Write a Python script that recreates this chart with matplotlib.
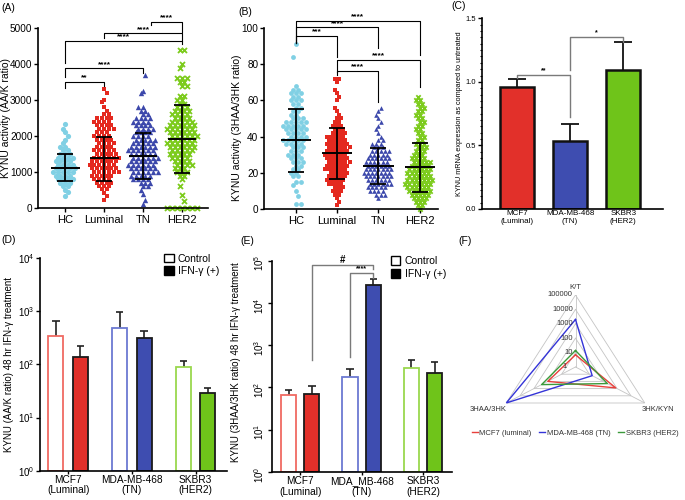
import numpy as np
import matplotlib.pyplot as plt
from matplotlib.patches import Patch
from matplotlib.lines import Line2D
from matplotlib.ticker import MultipleLocator, NullLocator

plt.rcParams['font.family'] = ['Liberation Sans', 'DejaVu Sans']
plt.rcParams['axes.linewidth'] = 1.2
plt.rcParams['xtick.major.width'] = 1.0
plt.rcParams['ytick.major.width'] = 1.0
plt.rcParams['xtick.major.size'] = 3
plt.rcParams['ytick.major.size'] = 3

W, H = 685, 500

groups = ['HC', 'Luminal', 'TN', 'HER2']
grp_colors = ['#80d0e4', '#e4291f', '#3c48ab', '#7ccb1c']
grp_markers = ['o', 's', '^', 'x']

# (A) AA/K ratio, swarm rows: (row value, points in row)
a_hc = [(330, 1), (450, 1), (500, 1), (600, 2), (700, 3), (800, 4), (900, 4), (1000, 5),
        (1100, 5), (1200, 4), (1300, 4), (1400, 4), (1500, 3), (1600, 2), (1700, 2),
        (1800, 1), (1900, 1), (2000, 1), (2100, 1), (2200, 1), (2330, 1)]
a_lum = [(230, 1), (330, 1), (430, 1), (530, 2), (600, 3), (700, 4), (800, 4), (900, 5),
         (1000, 6), (1100, 6), (1200, 6), (1300, 6), (1400, 6), (1500, 5), (1600, 5),
         (1700, 4), (1800, 4), (1900, 4), (2000, 4), (2100, 3), (2200, 4), (2300, 4),
         (2400, 4), (2500, 4), (2600, 2), (2700, 1), (2800, 1), (2950, 1), (3000, 1),
         (3200, 1), (3300, 1)]
a_tn = [(120, 1), (230, 1), (400, 1), (500, 1), (600, 2), (700, 3), (800, 4), (900, 5),
        (1000, 6), (1100, 6), (1200, 6), (1300, 6), (1400, 6), (1500, 6), (1600, 6),
        (1700, 6), (1800, 5), (1900, 5), (2000, 4), (2100, 4), (2200, 4), (2300, 4),
        (2400, 4), (2500, 4), (2600, 2), (2700, 2), (2800, 2), (3200, 1), (3250, 1),
        (3700, 1)]
a_her2 = [(0, 7), (200, 1), (350, 1), (600, 1), (800, 1), (900, 2), (1000, 3), (1100, 3),
          (1200, 4), (1300, 4), (1400, 4), (1500, 5), (1600, 5), (1700, 6), (1800, 6),
          (1900, 6), (2000, 6), (2100, 6), (2200, 6), (2300, 6), (2400, 5), (2500, 4),
          (2600, 4), (2700, 4), (2800, 3), (2900, 2), (3000, 2), (3100, 2), (3400, 2),
          (3500, 2), (3600, 3), (3900, 1), (4000, 1), (4400, 2)]
a_mean = [1120, 1390, 1445, 1920]
a_sd_lo = [740, 760, 805, 980]
a_sd_hi = [1490, 1980, 2075, 2860]

# (B) 3HAA/3HK ratio
b_hc = [(3, 2), (7, 1), (10, 1), (13, 1), (15, 2), (18, 2), (20, 2), (22, 2), (24, 2),
        (26, 3), (28, 3), (30, 3), (32, 3), (34, 3), (36, 4), (38, 5), (40, 4), (42, 4),
        (44, 5), (46, 5), (48, 5), (50, 3), (52, 2), (54, 2), (56, 2), (58, 2), (60, 3),
        (62, 2), (64, 3), (66, 2), (68, 1), (84, 1), (91, 1)]
b_lum = [(2, 1), (4, 1), (6, 1), (8, 2), (10, 3), (12, 3), (14, 4), (16, 5), (18, 5),
         (20, 5), (22, 6), (24, 6), (26, 6), (28, 6), (30, 6), (32, 6), (34, 6), (36, 6),
         (38, 5), (40, 5), (42, 4), (44, 3), (46, 3), (48, 2), (50, 2), (52, 1), (54, 1),
         (56, 1), (60, 1), (62, 1), (64, 1), (66, 1), (70, 1), (72, 2)]
b_tn = [(6, 1), (8, 3), (10, 4), (12, 5), (14, 6), (16, 6), (18, 7), (20, 7), (22, 7),
        (24, 6), (26, 6), (28, 6), (30, 5), (32, 5), (34, 3), (36, 3), (38, 2), (40, 1),
        (42, 1), (44, 1), (46, 1), (48, 1), (50, 1), (52, 1), (54, 1), (56, 1)]
b_her2 = [(0, 1), (2, 2), (4, 3), (6, 4), (8, 5), (10, 6), (12, 6), (14, 7), (16, 7),
          (18, 6), (20, 6), (22, 6), (24, 5), (26, 5), (28, 4), (30, 3), (32, 3), (34, 3),
          (36, 3), (38, 2), (40, 2), (42, 2), (44, 2), (46, 2), (48, 2), (50, 2), (52, 2),
          (54, 2), (56, 2), (58, 2), (60, 2), (62, 1)]
b_mean = [38.1, 30.8, 23.8, 23.2]
b_sd_lo = [20.3, 16.4, 13.6, 9.6]
b_sd_hi = [55.4, 44.9, 33.9, 36.6]

# (C) mRNA
cell_colors = ['#e2302a', '#3e4db0', '#6fc41a']
open_edges = ['#f06a62', '#6c7ad2', '#9ad84e']
c_labels = ['MCF7\n(Luminal)', 'MDA-MB-468\n(TN)', 'SKBR3\n(HER2)']
c_vals = [0.962, 0.537, 1.094]
c_top = [1.023, 0.666, 1.311]

# (D) AA/K ratio after 48 hr IFN-g
d_labels = ['MCF7\n(Luminal)', 'MDA-MB-468\n(TN)', 'SKBR3\n(HER2)']
d_ctrl = [347, 480, 90]
d_ctrl_top = [655, 975, 115]
d_ifn = [139, 310, 28.5]
d_ifn_top = [221, 430, 35.5]

# (E) 3HAA/3HK ratio after 48 hr IFN-g
e_labels = ['MCF7\n(Luminal)', 'MDA_MB-468\n(TN)', 'SKBR3\n(HER2)']
e_ctrl = [65, 174, 282]
e_ctrl_top = [87, 270, 446]
e_ifn = [69, 26600, 216]
e_ifn_top = [108, 36900, 407]

# (F) radar
f_axes = ['K/T', '3HK/KYN', '3HAA/3HK']
f_names = ['MCF7 (luminal)', 'MDA-MB-468 (TN)', 'SKBR3 (HER2)']
f_vals = [[7, 800, 100], [2000, 16, 100000], [14, 200, 280]]
f_colors = ['#e8403c', '#3434d8', '#3b9a3b']
f_rings = ['1', '10', '100', '1000', '10000', '100000']


def box(l, t, r, b):
    return [l / W, 1 - b / H, (r - l) / W, (b - t) / H]


def swarm(ax, pos, rows, dx, color, marker, size):
    # hexagonal packing: even rows on the integer lattice, odd rows on the half lattice
    xs, ys = [], []
    for j, (val, n) in enumerate(rows):
        shift = 0.0
        if (n + 1) % 2 != j % 2:
            shift = dx / 2 if (j // 2) % 2 == 0 else -dx / 2
        for i in range(n):
            xs.append(pos + (i - (n - 1) / 2) * dx + shift)
            ys.append(val)
    if marker == 'x':
        ax.scatter(xs, ys, s=size, marker='x', c=color, linewidths=1.3, clip_on=False, zorder=2)
    else:
        ax.scatter(xs, ys, s=size, marker=marker, c=color, linewidths=0, clip_on=False, zorder=2)


def mean_sd(ax, pos, m, lo, hi):
    ax.hlines(m, pos - 0.37, pos + 0.37, color='k', lw=1.4, zorder=3)
    ax.errorbar(pos, m, yerr=[[m - lo], [hi - m]], fmt='none', ecolor='k',
                elinewidth=1.3, capsize=6, capthick=1.3, zorder=3)


def bracket(ax, x1, x2, y, y1, y2, label, color='k', fs=6, lw=0.8):
    ax.plot([x1, x1, x2, x2], [y1, y, y, y2], color=color, lw=lw, clip_on=False)
    ax.annotate(label, ((x1 + x2) / 2, y), xytext=(0, 0.3), textcoords='offset points',
                ha='center', va='bottom', fontsize=fs, fontweight='bold',
                annotation_clip=False)


def clean(ax):
    ax.spines['top'].set_visible(False)
    ax.spines['right'].set_visible(False)


fig = plt.figure(figsize=(W / 100, H / 100), dpi=100)

# ---------------- (A)
axA = fig.add_axes(box(38, 28, 208, 208))
clean(axA)
a_size = [14, 12, 15, 13]
for i, rows in enumerate([a_hc, a_lum, a_tn, a_her2]):
    swarm(axA, i, rows, 0.125, grp_colors[i], grp_markers[i], a_size[i])
    mean_sd(axA, i, a_mean[i], a_sd_lo[i], a_sd_hi[i])
axA.set_xlim(-0.7, 3.67)
axA.set_ylim(0, 5000)
axA.set_yticks([0, 1000, 2000, 3000, 4000, 5000])
axA.set_xticks(range(4))
axA.set_xticklabels(groups, fontsize=8)
axA.tick_params(axis='y', labelsize=7.2, pad=1)
axA.tick_params(axis='x', pad=2)
axA.set_ylabel('KYNU activity (AA/K ratio)', fontsize=7.5, va='center')
axA.yaxis.set_label_coords(-0.19, 0.5)
for b in [(0, 1, 3509, 3324, 3389, '**'), (0, 2, 3880, 3648, 3740, '****'),
          (0, 3, 4639, 4019, 4560, '****'), (1, 3, 4852, 4713, 4640, '****'),
          (2.2, 3, 5176, 5083, 4900, '****')]:
    bracket(axA, *b)

# ---------------- (B)
axB = fig.add_axes(box(264, 28, 438, 209))
clean(axB)
b_size = [12, 9, 11, 10]
b_dx = [0.12, 0.1, 0.1, 0.1]
for i, rows in enumerate([b_hc, b_lum, b_tn, b_her2]):
    swarm(axB, i, rows, b_dx[i], grp_colors[i], grp_markers[i], b_size[i])
    mean_sd(axB, i, b_mean[i], b_sd_lo[i], b_sd_hi[i])
axB.set_xlim(-0.77, 3.44)
axB.set_ylim(0, 100)
axB.set_yticks([0, 20, 40, 60, 80, 100])
axB.set_xticks(range(4))
axB.set_xticklabels(groups, fontsize=8)
axB.tick_params(axis='y', labelsize=7.2, pad=1)
axB.tick_params(axis='x', pad=2)
axB.set_ylabel('KYNU activity (3HAA/3HK ratio)', fontsize=7.5, va='center')
axB.yaxis.set_label_coords(-0.155, 0.45)
for b in [(0, 3, 103.9, 91.5, 85.1, '****'), (0, 2, 100.4, 91.5, 89.1, '****'),
          (0, 1, 95.8, 91.5, 84, '***'), (1, 3, 82.3, 75.9, 67.2, '****'),
          (1, 2, 76.2, 74, 59.3, '****')]:
    bracket(axB, *b)

# ---------------- (C)
axC = fig.add_axes(box(482, 18.3, 663, 209))
clean(axC)
xc = np.arange(3)
axC.bar(xc, c_vals, width=0.64, color=cell_colors, edgecolor='#111', linewidth=1.8, zorder=2)
axC.vlines(xc, c_vals, c_top, color='#111', lw=1.3, zorder=1)
axC.hlines(c_top, xc - 0.17, xc + 0.17, color='#111', lw=1.3)
axC.set_xlim(-0.66, 2.75)
axC.set_ylim(0, 1.5)
axC.set_yticks([0, 0.5, 1.0, 1.5])
axC.set_yticklabels(['0.0', '0.5', '1.0', '1.5'])
axC.yaxis.set_minor_locator(MultipleLocator(0.05))
axC.tick_params(axis='y', which='minor', length=1.5, width=0.8)
axC.set_xticks(xc)
axC.set_xticklabels(c_labels, fontsize=5.8, linespacing=1.1)
axC.tick_params(axis='both', labelsize=5.5, pad=1)
axC.tick_params(axis='x', labelsize=5.8, length=0)
axC.set_ylabel('KYNU mRNA expression as compared to untreated', fontsize=5.2, va='center')
axC.yaxis.set_label_coords(-0.127, 0.5)
bracket(axC, 0, 1, 1.054, 1.03, 0.72, '**', color='#7a7a7a', fs=5, lw=1.0)
bracket(axC, 1, 2, 1.356, 1.09, 1.317, '*', color='#7a7a7a', fs=5, lw=1.0)


def paired_bars(ax, ctrl, ctrl_top, ifn, ifn_top, off, w):
    x = np.arange(len(ctrl))
    ax.bar(x - off, np.array(ctrl) - 1, bottom=1, width=w, color='white',
           edgecolor=open_edges, linewidth=1.3, zorder=2)
    ax.bar(x + off, np.array(ifn) - 1, bottom=1, width=w, color=cell_colors,
           edgecolor='#1a1a1a', linewidth=1.3, zorder=2)
    for xs, v, t in ((x - off, ctrl, ctrl_top), (x + off, ifn, ifn_top)):
        ax.vlines(xs, v, t, color='#222', lw=1.2, zorder=1)
        ax.hlines(t, xs - w * 0.24, xs + w * 0.24, color='#222', lw=1.2)
    ax.set_yscale('log')
    ax.yaxis.set_minor_locator(NullLocator())
    ax.set_xticks(x)
    ax.tick_params(axis='x', length=2, pad=1)


legend_handles = [Patch(facecolor='white', edgecolor='k', linewidth=1.0, label='Control'),
                  Patch(facecolor='k', edgecolor='k', label='IFN-γ (+)')]

# ---------------- (D)
axD = fig.add_axes(box(40, 258, 227, 470.7))
clean(axD)
paired_bars(axD, d_ctrl, d_ctrl_top, d_ifn, d_ifn_top, 0.19, 0.235)
axD.set_ylim(1, 1e4)
axD.set_xlim(-0.44, 2.49)
axD.set_xticklabels(d_labels, fontsize=7.3, linespacing=1.05)
axD.tick_params(axis='y', labelsize=7, pad=1)
axD.set_ylabel('KYNU (AA/K ratio) 48 hr IFN-γ treatment', fontsize=7, va='center')
axD.yaxis.set_label_coords(-0.166, 0.5)
axD.legend(handles=legend_handles, loc='upper right', bbox_to_anchor=(0.98, 1.04),
           frameon=False, fontsize=7.5, handlelength=0.9, handleheight=0.9,
           handletextpad=0.4, labelspacing=0.25, borderaxespad=0)

# ---------------- (E)
axE = fig.add_axes(box(272, 260.7, 452, 472))
clean(axE)
paired_bars(axE, e_ctrl, e_ctrl_top, e_ifn, e_ifn_top, 0.19, 0.245)
axE.set_ylim(1, 1e5)
axE.set_xlim(-0.46, 2.47)
axE.set_xticklabels(e_labels, fontsize=7.3, linespacing=1.05)
axE.tick_params(axis='y', labelsize=7, pad=1, labelrotation=90)
axE.set_ylabel('KYNU (3HAA/3HK ratio) 48 hr IFN-γ treatment', fontsize=7, va='center')
axE.yaxis.set_label_coords(-0.2, 0.52)
axE.legend(handles=legend_handles, loc='upper right', bbox_to_anchor=(0.99, 1.04),
           frameon=False, fontsize=7.5, handlelength=0.9, handleheight=0.9,
           handletextpad=0.4, labelspacing=0.25, borderaxespad=0)
bracket(axE, 0.19, 1.19, 10 ** 4.898, 10 ** 2.65, 10 ** 4.80, '#', color='#7a7a7a', fs=7, lw=1.0)
bracket(axE, 0.81, 1.19, 10 ** 4.716, 10 ** 2.73, 10 ** 4.58, '****', color='#7a7a7a', fs=5, lw=1.0)

# ---------------- (F)
axF = fig.add_axes(box(495.5, 295, 655.5, 439), projection='polar')
axF.set_aspect('auto')
axF.set_theta_offset(np.pi / 2)
axF.set_theta_direction(-1)
theta = np.array([0, 2 * np.pi / 3, 4 * np.pi / 3])
tc = np.append(theta, theta[0])
axF.set_ylim(0, 5)
axF.grid(False)
axF.set_xticks([])
axF.set_yticks([])
axF.spines['polar'].set_visible(False)
axF.patch.set_alpha(0)
for k in range(1, 6):
    axF.plot(tc, [k] * 4, color='#c4c4c4', lw=0.6, zorder=1)
for t in theta:
    axF.plot([t, t], [0, 5], color='#c4c4c4', lw=0.6, zorder=1)
for vals, col in zip(f_vals, f_colors):
    r = np.log10(vals)
    axF.plot(tc, np.append(r, r[0]), color=col, lw=1.0, zorder=3)
for k, lab in enumerate(f_rings):
    axF.annotate(lab, (0, k), xytext=(-6 if k == 0 else -2, 0), textcoords='offset points',
                 ha='right', va='center', fontsize=5.5, color='#333', annotation_clip=False)
axF.annotate(f_axes[0], (0, 5), xytext=(0, 3), textcoords='offset points',
             ha='center', va='bottom', fontsize=5.5, color='#333', annotation_clip=False)
axF.annotate(f_axes[1], (theta[1], 5), xytext=(-2, -5), textcoords='offset points',
             ha='left', va='center', fontsize=5.5, color='#333', annotation_clip=False)
axF.annotate(f_axes[2], (theta[2], 5), xytext=(0, -5), textcoords='offset points',
             ha='right', va='center', fontsize=5.5, color='#333', annotation_clip=False)
fig.legend(handles=[Line2D([], [], color=c, lw=1.0, label=n) for c, n in zip(f_colors, f_names)],
           loc='center', bbox_to_anchor=(575 / W, 1 - 433 / H), ncol=3, frameon=False,
           fontsize=5.5, handlelength=0.8, handletextpad=0.2, columnspacing=1.0,
           labelcolor='#333')

# panel letters
for lab, x, y in [('(A)', 1, 8), ('(B)', 238, 12), ('(C)', 451, 6),
                  ('(D)', 1, 240), ('(E)', 240, 241), ('(F)', 458, 241)]:
    fig.text(x / W, 1 - y / H, lab, fontsize=7.5, ha='left', va='center')

fig.savefig('out.png', dpi=100)
